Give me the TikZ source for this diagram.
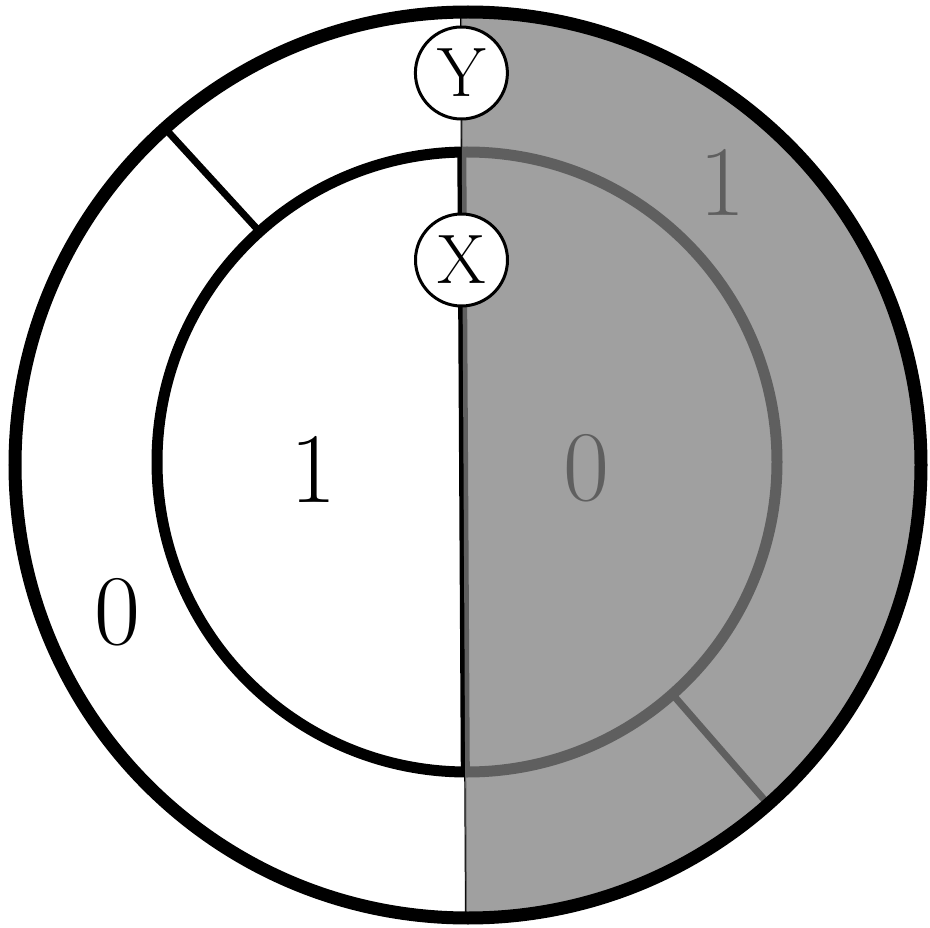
\documentclass[tikz,border=0pt]{standalone}
\begin{document}
\begin{tikzpicture}[x=1pt,y=-1pt,
  lbl/.style={font=\fontsize{100}{100}\selectfont,inner sep=0pt},
  bubble/.style={circle,draw=black,fill=white,line width=3pt,minimum size=92pt,inner sep=0pt,font=\fontsize{70}{70}\selectfont},
  divider/.style={line width=7pt},
  overlay/.style={fill=black!50,opacity=0.75}]
\useasboundingbox (0,0) rectangle (930,928);
\coordinate (oc) at (468,465);
\coordinate (ic) at (467,462);
\coordinate (otop) at (461,11);
\coordinate (obot) at (466,918);
\coordinate (itop) at (461.8,152);
\coordinate (ibot) at (465.3,771);
\coordinate (d1a) at (259.6,231.7);
\coordinate (d1b) at (165,128.4);
\coordinate (d2a) at (672.4,694.2);
\coordinate (d2b) at (768,804);
\draw[line width=2pt] (otop) -- (obot);
\draw[divider] (d1a) -- (d1b);
\draw[divider] (d2a) -- (d2b);
\draw[line width=11pt] (ic) circle[radius=310pt];
\draw[line width=9pt] (itop) -- (ibot);
\node[lbl] (l1) at (722,182) {1};
\node[lbl] (l2) at (586,468) {0};
\node[lbl] (l3) at (313,469) {1};
\node[lbl] (l4) at (117,612) {0};
\begin{scope}
\clip (oc) circle[radius=453pt];
\fill[overlay] (461,0) -- (930,0) -- (930,928) -- (466,928) -- cycle;
\end{scope}
\draw[line width=13pt] (oc) circle[radius=453pt];
\node[bubble] (Y) at (461.4,73) {Y};
\node[bubble] (X) at (461.5,260) {X};
\end{tikzpicture}
\end{document}
